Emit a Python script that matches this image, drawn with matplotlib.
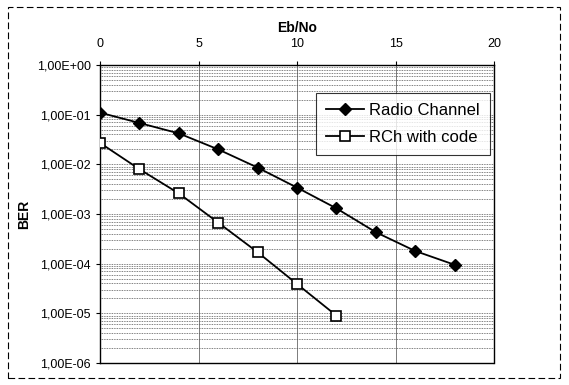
import matplotlib
matplotlib.use("Agg")
import matplotlib.pyplot as plt
from matplotlib.patches import Rectangle
from matplotlib.ticker import FixedLocator, LogLocator, NullFormatter

# data
ebno = [0, 2, 4, 6, 8, 10, 12, 14, 16, 18]
ber_radio = [0.11, 0.068, 0.042, 0.020, 0.0086, 0.0034, 0.0013, 0.00043, 0.00018, 0.000095]
ebno_code = [0, 2, 4, 6, 8, 10, 12]
ber_code = [0.027, 0.0080, 0.0026, 0.00067, 0.00017, 0.000039, 0.0000090]

x_ticks = [0, 5, 10, 15, 20]
y_ticks = [1e0, 1e-1, 1e-2, 1e-3, 1e-4, 1e-5, 1e-6]
y_labels = ["1,00E+00", "1,00E-01", "1,00E-02", "1,00E-03", "1,00E-04", "1,00E-05", "1,00E-06"]

plt.rcParams['font.family'] = ['Liberation Sans', 'DejaVu Sans']

fig = plt.figure(figsize=(5.69, 3.85), dpi=100)
ax = fig.add_axes([100 / 569, 1 - 363 / 385, 394 / 569, 298 / 385])

ax.plot(ebno, ber_radio, color='black', lw=1.3, marker='D', ms=6,
        mfc='black', mec='black', label='Radio Channel', zorder=3)
ax.plot(ebno_code, ber_code, color='black', lw=1.3, marker='s', ms=7,
        mfc='white', mec='black', mew=1.2, label='RCh with code', zorder=3)

ax.set_yscale('log')
ax.set_xlim(0, 20)
ax.set_ylim(1e-6, 1e0)

ax.xaxis.tick_top()
ax.xaxis.set_label_position('top')
ax.set_xticks(x_ticks)
ax.set_xticklabels([str(t) for t in x_ticks])
ax.set_xlabel('Eb/No', fontsize=10, fontweight='bold', labelpad=4)

ax.yaxis.set_major_locator(FixedLocator(y_ticks))
ax.set_yticklabels(y_labels)
ax.yaxis.set_minor_locator(LogLocator(base=10, subs=range(2, 10)))
ax.yaxis.set_minor_formatter(NullFormatter())
ax.set_ylabel('BER', fontsize=10, fontweight='bold', labelpad=4)

ax.tick_params(axis='both', labelsize=9, length=3, width=0.8)
ax.tick_params(axis='x', pad=8)
ax.tick_params(axis='y', which='minor', length=0)

# grid: dotted horizontal lines, solid vertical lines
ax.grid(axis='y', which='both', color='#555555', linestyle=(0, (1, 1)), lw=0.6)
ax.grid(axis='x', which='major', color='#666666', linestyle='-', lw=0.6)

for s in ['top', 'left']:
    ax.spines[s].set_linewidth(1.0)
for s in ['bottom', 'right']:
    ax.spines[s].set_linestyle((0, (1, 1)))
    ax.spines[s].set_linewidth(1.0)

leg = ax.legend(loc='upper right', bbox_to_anchor=(0.99, 0.907), fontsize=12,
                frameon=True, fancybox=False, edgecolor='black',
                handlelength=2.3, handletextpad=0.3, borderpad=0.6,
                labelspacing=0.75, borderaxespad=0)
leg.get_frame().set_linewidth(0.8)

# dashed outer frame
fig.patches.append(Rectangle((8 / 569, 7 / 385), 552 / 569, 371 / 385,
                             transform=fig.transFigure, fill=False,
                             edgecolor='black', linestyle=(0, (6, 3)), lw=0.8))

fig.savefig('out.png', dpi=100)
